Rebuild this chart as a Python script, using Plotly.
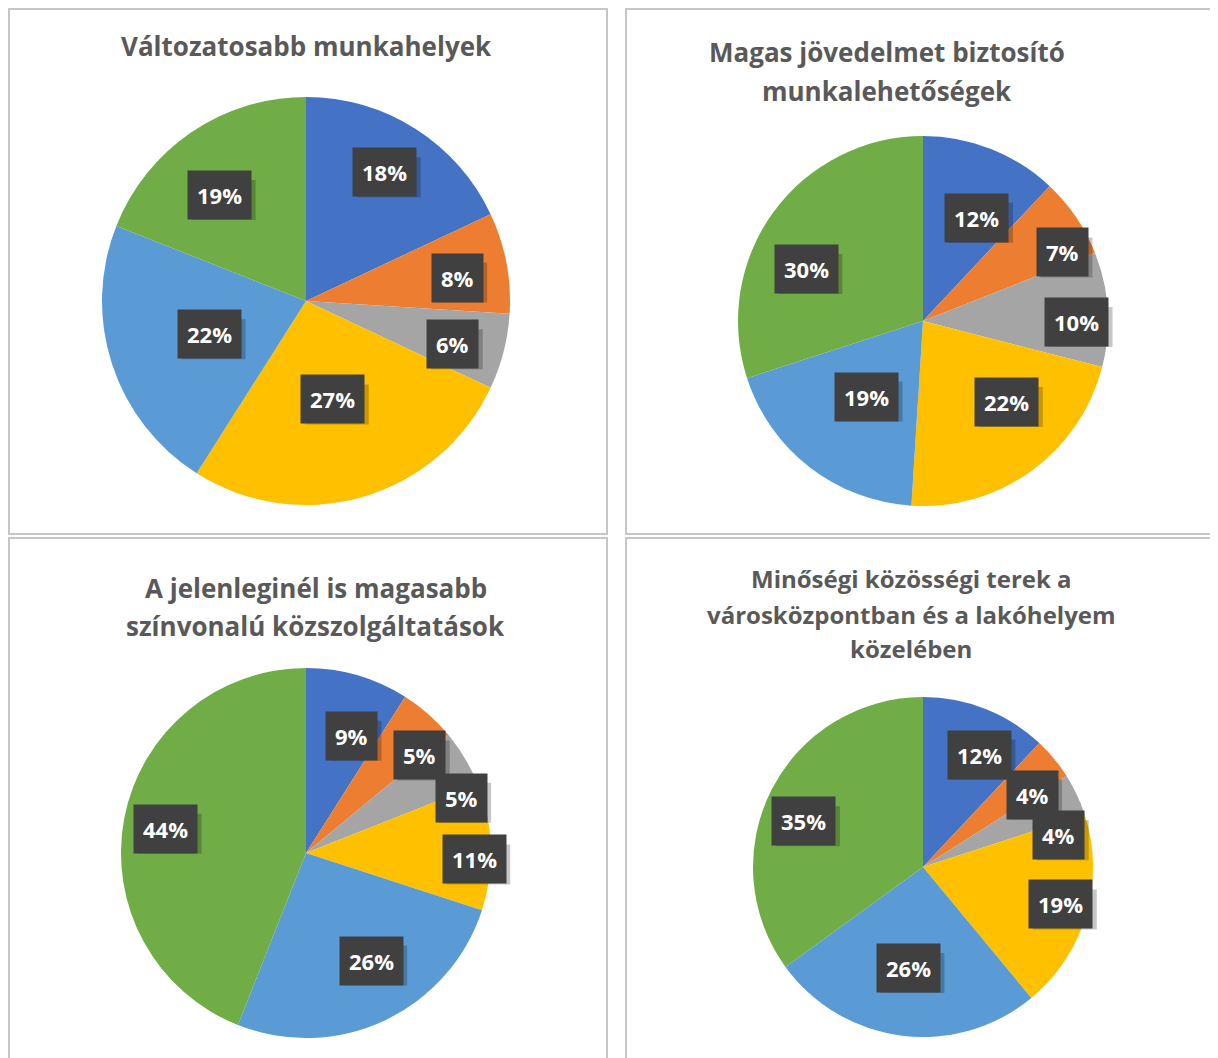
import math
import plotly.graph_objects as go

W, H = 1210, 1050   # figure size (page body adds an 8px margin)
OFF = 8

# ---- data ----
categories = ["A", "B", "C", "D", "E", "F"]
titles = [
    ["Változatosabb munkahelyek"],
    ["Magas jövedelmet biztosító", "munkalehetőségek"],
    ["A jelenleginél is magasabb", "színvonalú közszolgáltatások"],
    ["Minőségi közösségi terek a", "városközpontban és a lakóhelyem", "közelében"],
]
values_1 = [18, 8, 6, 27, 22, 19]
values_2 = [12, 7, 10, 22, 19, 30]
values_3 = [9, 5, 5, 11, 26, 44]
values_4 = [12, 4, 4, 19, 26, 35]
all_values = [values_1, values_2, values_3, values_4]

# ---- style / layout ----
colors = ["#4472C4", "#ED7D31", "#A5A5A5", "#FFC000", "#5B9BD5", "#70AD47"]
pies = [((306, 301), 204), ((923, 321), 185), ((306, 853), 185), ((923, 867), 170)]
label_frac = [
    [0.74, 0.75, 0.75, 0.50, 0.50, 0.67],
    [0.63, 0.84, 0.83, 0.63, 0.51, 0.69],
    [0.68, 0.81, 0.89, 0.91, 0.68, 0.77],
    [0.74, 0.77, 0.82, 0.84, 0.60, 0.75],
]
label_nudge = [
    [-1, 2, 2, 1, -1, -5],
    [6, 8, 4, -10, -1, -12],
    [5, 8, 11, 4, -6, -1],
    [5, 6, 12, -1, 1, -6],
]
title_x = [306, 887, 316, 911]
title_y = [[46], [52, 91], [588, 626], [578, 614, 648]]
title_size = [26, 26, 26, 24]
panels = [(6, 6, 607, 534), (626, 6, 1230, 534), (6, 538, 607, 1070), (626, 538, 1230, 1070)]

FONT = "Open Sans"

def px(x):
    return (max(x, OFF + 1) - OFF) / W

def py(y):
    return 1 - (max(y, OFF + 1) - OFF) / H

fig = go.Figure()
shapes = []
annotations = []

for i, vals in enumerate(all_values):
    (cx, cy), r = pies[i]
    fig.add_trace(go.Pie(
        labels=categories, values=vals, sort=False, direction="clockwise",
        rotation=0, textinfo="none", hoverinfo="label+percent",
        marker=dict(colors=colors, line=dict(width=0)),
        domain=dict(x=[px(cx - r), px(cx + r)], y=[py(cy + r), py(cy - r)]),
        showlegend=False,
    ))
    total = sum(vals)
    cum = 0
    for j, v in enumerate(vals):
        mid = (cum + v / 2) / total * 360 + label_nudge[i][j]
        cum += v
        a = math.radians(mid)
        f = label_frac[i][j]
        lx = cx + f * r * math.sin(a)
        ly = cy - f * r * math.cos(a)
        txt = f"{round(v / total * 100)}%"
        # soft drop shadow behind the label box
        hw = 32 if len(txt) > 2 else 26
        shapes.append(dict(
            type="rect", xref="paper", yref="paper",
            xsizemode="pixel", ysizemode="pixel",
            xanchor=px(lx), yanchor=py(ly),
            x0=-hw + 4, x1=hw + 4, y0=-20 - 5, y1=20 - 5,
            line=dict(width=0), fillcolor="rgba(0,0,0,0.22)", layer="above",
        ))
        annotations.append(dict(
            x=px(lx), y=py(ly), xref="paper", yref="paper",
            xanchor="center", yanchor="middle", showarrow=False,
            text=f"<b>{txt}</b>", borderpad=9,
            font=dict(family=FONT, size=22, color="white"),
            bgcolor="#404040",
        ))
    for line, ty in zip(titles[i], title_y[i]):
        annotations.append(dict(
            x=px(title_x[i]), y=py(ty), xref="paper", yref="paper",
            text=f"<b>{line}</b>", showarrow=False,
            font=dict(family=FONT, size=title_size[i], color="#595959"),
            xanchor="center", yanchor="middle",
        ))

for (x0, y0, x1, y1) in panels:
    shapes.append(dict(type="rect", xref="paper", yref="paper",
                       x0=px(x0), x1=px(x1), y0=py(y1), y1=py(y0),
                       line=dict(color="#C6C6C6", width=2), fillcolor="rgba(0,0,0,0)",
                       layer="below"))

fig.update_layout(
    width=W, height=H, margin=dict(l=0, r=0, t=0, b=0),
    paper_bgcolor="white", plot_bgcolor="white",
    shapes=shapes, annotations=annotations,
)

fig.write_html("out.html")
